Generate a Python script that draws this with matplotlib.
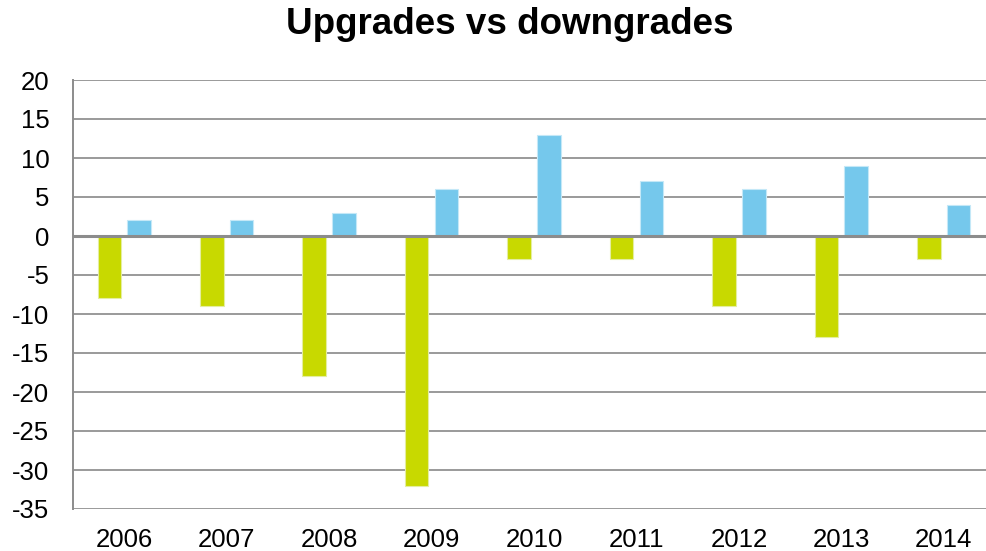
import matplotlib
matplotlib.use("Agg")
import matplotlib.pyplot as plt
import numpy as np

plt.rcParams['font.family'] = ['Liberation Sans', 'DejaVu Sans']
plt.rcParams['axes.unicode_minus'] = False

years = ['2006', '2007', '2008', '2009', '2010', '2011', '2012', '2013', '2014']
downgrades = [-8, -9, -18, -32, -3, -3, -9, -13, -3]
upgrades = [2, 2, 3, 6, 13, 7, 6, 9, 4]

W, H = 987, 551
fig = plt.figure(figsize=(W / 100, H / 100), dpi=100)
left, right, top, bottom = 73, 995, 80, 509
ax = fig.add_axes([left / W, 1 - bottom / H, (right - left) / W, (bottom - top) / H])

x = np.arange(len(years))
bw = 0.23
ax.bar(x - 0.145, downgrades, bw, color='#C8D900', edgecolor='#E4EDA0', linewidth=0.8, zorder=3)
ax.bar(x + 0.145, upgrades, bw, color='#75C8EC', edgecolor='#C4E8F7', linewidth=0.8, zorder=3)

ax.set_xlim(-0.5, len(years) - 0.5)
ax.set_ylim(-35, 20)
ax.set_yticks(np.arange(-35, 21, 5))
ax.set_xticks(x)
ax.set_xticklabels(years)
ax.tick_params(axis='both', length=0, labelsize=18.5, colors='black')
ax.tick_params(axis='y', pad=17)
ax.tick_params(axis='x', pad=14)

for yv in np.arange(-35, 21, 5):
    if yv == 0:
        continue
    ax.axhline(yv, color='#9A9A9A', linewidth=1.4, zorder=1)
ax.axhline(0, color='#8C8C8C', linewidth=2.2, zorder=4)

for s in ['top', 'right', 'bottom']:
    ax.spines[s].set_visible(False)
ax.spines['left'].set_color('#8C8C8C')
ax.spines['left'].set_linewidth(1.4)

fig.text(510 / W, 1 - 25 / H, 'Upgrades vs downgrades', ha='center', va='center',
         fontsize=26.5, fontweight='bold')

fig.savefig('out.png', dpi=100)
